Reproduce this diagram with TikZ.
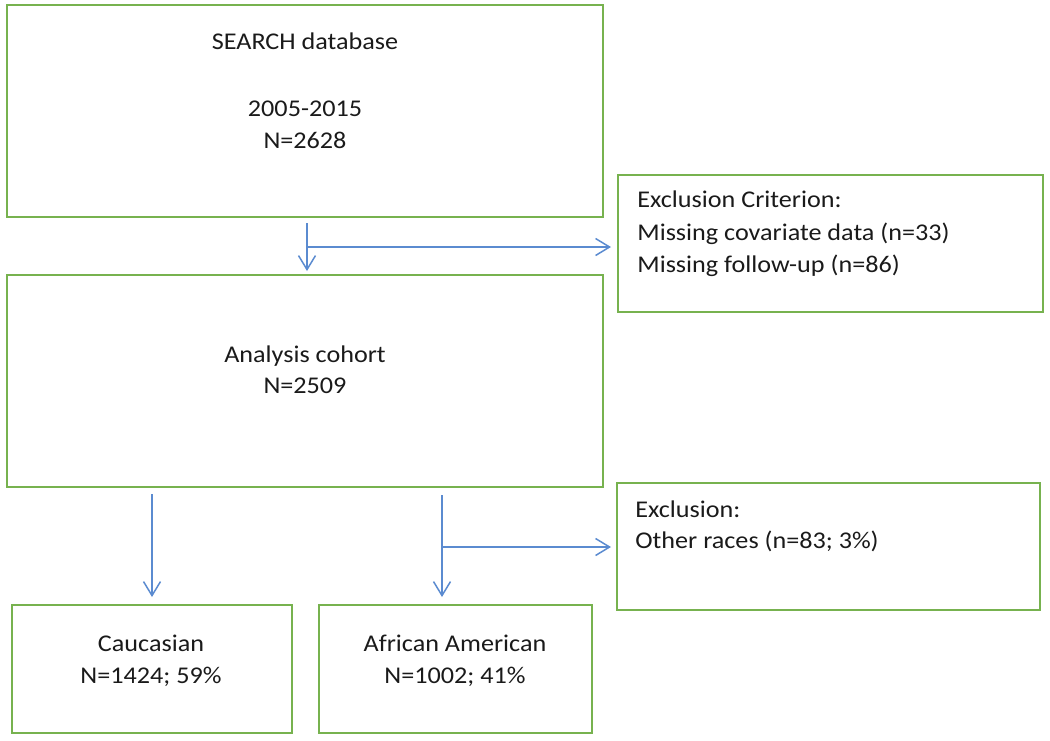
\documentclass[tikz,border=0pt]{standalone}
\usepackage{fontspec}
\setmainfont{Carlito}[FakeStretch=1.09]
\usetikzlibrary{arrows.meta,calc}
\definecolor{boxgreen}{HTML}{77B24F}
\definecolor{arrblue}{HTML}{5B8BD0}
\definecolor{txtcol}{HTML}{1A1A1A}
\begin{document}
\begin{tikzpicture}[x=0.5pt,y=-0.5pt,
  box/.style={draw=boxgreen, line width=1pt, inner sep=0pt, rectangle},
  txt/.style={inner sep=0pt, text=txtcol, font=\fontsize{12pt}{16pt}\selectfont},
  arr/.style={draw=arrblue, line width=0.75pt, -{Straight Barb[length=7pt,width=8.5pt]}}]
\useasboundingbox (0,0) rectangle (1050,740);
% boxes
\node[box, minimum width=298pt, minimum height=106pt] (b1) at (305,111) {};
\node[box, minimum width=212.5pt, minimum height=68.5pt] (e1) at (830.5,243.5) {};
\node[box, minimum width=298pt, minimum height=106pt] (b2) at (305,381) {};
\node[box, minimum width=211.5pt, minimum height=63.5pt] (e2) at (828.5,546.5) {};
\node[box, minimum width=140pt, minimum height=64pt] (c) at (152,669) {};
\node[box, minimum width=136.5pt, minimum height=64pt] (aa) at (455.5,669) {};
% texts
\node[txt, anchor=base] (t1a) at (305,49) {SEARCH database};
\node[txt, anchor=base] (t1b) at (305,116) {2005-2015};
\node[txt, anchor=base] (t1c) at (305,148) {N=2628};
\node[txt, anchor=base west] (te1a) at (637,207) {Exclusion Criterion:};
\node[txt, anchor=base west] (te1b) at (637,240) {Missing covariate data (n=33)};
\node[txt, anchor=base west] (te1c) at (637,272) {Missing follow-up (n=86)};
\node[txt, anchor=base] (t2a) at (305,362) {Analysis cohort};
\node[txt, anchor=base] (t2b) at (305,393) {N=2509};
\node[txt, anchor=base west] (te2a) at (635,517) {Exclusion:};
\node[txt, anchor=base west] (te2b) at (635,548) {Other races (n=83; 3\%)};
\node[txt, anchor=base] (tca) at (151,651) {Caucasian};
\node[txt, anchor=base] (tcb) at (151,683) {N=1424; 59\%};
\node[txt, anchor=base] (taa) at (455,651) {African American};
\node[txt, anchor=base] (tab) at (455,683) {N=1002; 41\%};
% connectors
\draw[arr] ($(b1.south)+(2,5)$) -- ($(b2.north)+(2,-3)$);
\coordinate (j1) at (307,247);
\draw[arr] (j1) -- ($(j1 -| e1.west)+(-6,0)$);
\draw[arr] ($(b2.south -| c.north)+(0,6)$) -- ($(c.north)+(0,-7)$);
\draw[arr] ($(b2.south)+(137,7)$) -- ($(aa.north)+(-13.5,-7)$);
\coordinate (j2) at (442,547);
\draw[arr] (j2) -- ($(j2 -| e2.west)+(-5,0)$);
\end{tikzpicture}
\end{document}
